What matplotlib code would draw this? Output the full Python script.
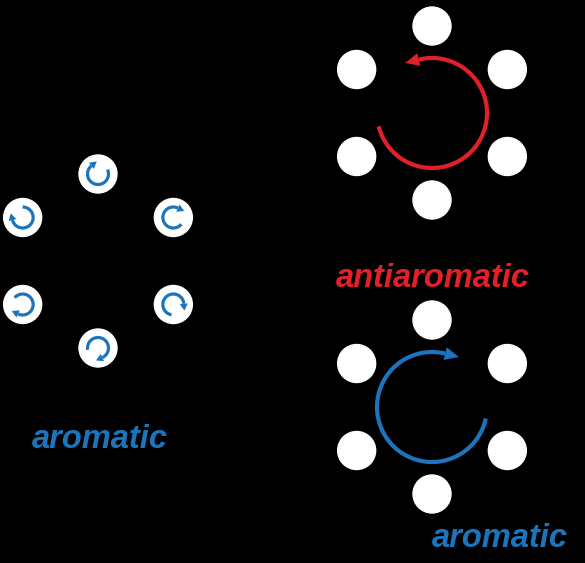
import numpy as np
import matplotlib
matplotlib.use("Agg")
import matplotlib.pyplot as plt
from matplotlib.patches import Circle, Polygon

# ring layout (pixel units, y grows downward)
ring_centers = {"left": (98, 261), "top": (432, 113), "bottom": (432, 407)}
ring_radius = 87
node_radius = 19
node_angles = [90, 30, -30, -90, -150, 150]

# small clockwise arrows in each left node: tip angle, arc span
small_tip_angles = [95, 30, -30, -100, -150, 160]
small_span = 290
small_arc_r = 10.5

# big ring currents: (start angle, tip angle) in degrees, math convention
red_arc = (194, 477)      # counter-clockwise -> antiaromatic
blue_arc = (-12, -297)    # clockwise -> aromatic
big_arc_r = 55

labels = ["antiaromatic", "aromatic", "aromatic"]
label_pos = [(433, 287), (100, 448), (500, 547)]

RED = "#e3202a"
BLUE = "#1c75bc"


def curved_arrow(ax, cx, cy, r, a0, a1, color, lw, head_len, head_w):
    sgn = np.sign(a1 - a0)
    # line stops where the head begins
    a_end = a1 - sgn * np.degrees(head_len / r) * 0.9
    t = np.radians(np.linspace(a0, a_end, 150))
    ax.plot(cx + r * np.cos(t), cy - r * np.sin(t), color=color, lw=lw,
            solid_capstyle="butt", zorder=3)
    te = np.radians(a_end)
    base = np.array([cx + r * np.cos(te), cy - r * np.sin(te)])
    u = sgn * np.array([-np.sin(te), -np.cos(te)])
    n = np.array([-u[1], u[0]])
    tip = base + head_len * u
    ax.add_patch(Polygon([tip, base + n * head_w / 2, base - n * head_w / 2],
                         closed=True, color=color, lw=0, zorder=3))


fig = plt.figure(figsize=(5.85, 5.63), dpi=100)
fig.patch.set_facecolor("black")
ax = fig.add_axes([0, 0, 1, 1])
ax.set_facecolor("black")
ax.set_xlim(0, 585)
ax.set_ylim(563, 0)
ax.set_aspect("equal")
ax.axis("off")

# nodes
for key, (cx, cy) in ring_centers.items():
    for a in node_angles:
        x = cx + ring_radius * np.cos(np.radians(a))
        y = cy - ring_radius * np.sin(np.radians(a))
        ax.add_patch(Circle((x, y), node_radius, color="white", zorder=2))

# small local currents in the left ring
cx, cy = ring_centers["left"]
for a, tip in zip(node_angles, small_tip_angles):
    x = cx + ring_radius * np.cos(np.radians(a))
    y = cy - ring_radius * np.sin(np.radians(a))
    curved_arrow(ax, x, y, small_arc_r, tip + small_span, tip, BLUE,
                 lw=2.3, head_len=7, head_w=8)

# big ring currents
cx, cy = ring_centers["top"]
curved_arrow(ax, cx, cy, big_arc_r, red_arc[0], red_arc[1], RED,
             lw=3.0, head_len=14, head_w=13)
cx, cy = ring_centers["bottom"]
curved_arrow(ax, cx, cy, big_arc_r, blue_arc[0], blue_arc[1], BLUE,
             lw=3.0, head_len=14, head_w=13)

for text, (x, y), col in zip(labels, label_pos, [RED, BLUE, BLUE]):
    ax.text(x, y, text, color=col, fontsize=23.5, fontweight="bold", fontstyle="italic",
            family="Liberation Sans", ha="center", va="baseline")

fig.savefig("out.png", dpi=100, facecolor="black")
